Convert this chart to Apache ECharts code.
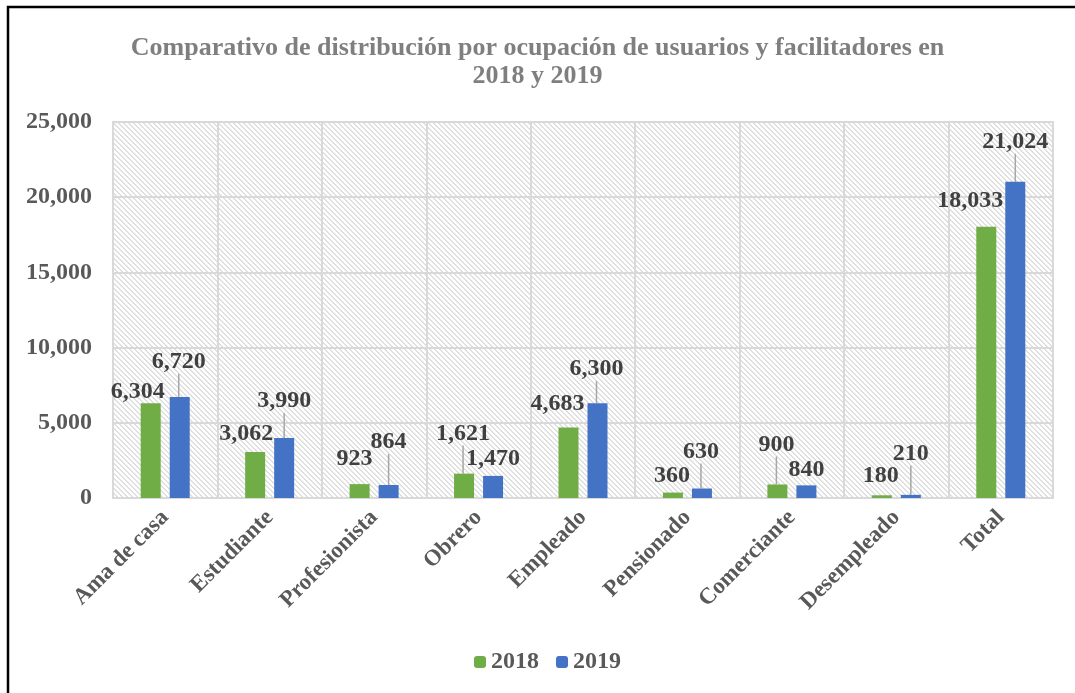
<!DOCTYPE html>
<html lang="es">
  <head>
    <meta charset="UTF-8" />
    <title>Comparativo de distribución por ocupación</title>
    <script src="https://cdn.jsdelivr.net/npm/echarts@6.0.0/dist/echarts.min.js"></script>
    <style>
      html,
      body {
        margin: 0;
        padding: 0;
        background: #fff;
      }
    </style>
  </head>
  <body>
    <div id="main" style="width: 1075px; height: 693px"></div>
    <script type="text/javascript">
      // datos
      var categorias = [
        "Ama de casa",
        "Estudiante",
        "Profesionista",
        "Obrero",
        "Empleado",
        "Pensionado",
        "Comerciante",
        "Desempleado",
        "Total",
      ];
      var valores2018 = [6304, 3062, 923, 1621, 4683, 360, 900, 180, 18033];
      var valores2019 = [6720, 3990, 864, 1470, 6300, 630, 840, 210, 21024];
      var ticksY = [0, 5000, 10000, 15000, 20000, 25000];

      // desplazamiento de etiquetas (como quedaron en el original de Excel)
      var mover2018 = [[-13, 6], [-9, -1], [-5, -8], [-1, -23], [-11, -7], [-1, 0], [-1, -23], [-1, -2], [-16, -9]];
      var mover2019 = [[-1, -18], [0, -20], [0, -26], [0, 0], [-1, -17], [-1, -20], [0, 1], [0, -24], [0, -23]];
      var linea2018 = [false, false, false, true, false, false, true, false, false];
      var linea2019 = [true, true, true, false, true, true, false, true, true];

      var fuente = "'Liberation Serif', 'Times New Roman', serif";

      // trama diagonal del fondo
      var trama = document.createElement("canvas");
      trama.width = 5;
      trama.height = 5;
      var ctx = trama.getContext("2d");
      ctx.fillStyle = "#fff";
      ctx.fillRect(0, 0, 5, 5);
      ctx.fillStyle = "#e0e0e0";
      for (var i = 0; i < 5; i++) {
        ctx.fillRect(i, i, 1, 1);
        ctx.fillRect((i + 1) % 5, i, 1, 1);
      }

      function armarDatos(vals, lineas) {
        return vals.map(function (v, i) {
          return { value: v, labelLine: { show: lineas[i] } };
        });
      }

      var etiqueta = {
        show: true,
        position: "top",
        color: "#404040",
        fontFamily: fuente,
        fontWeight: "bold",
        fontSize: 24,
        formatter: function (p) {
          return p.value.toLocaleString("en-US");
        },
      };

      var myChart = echarts.init(document.getElementById("main"));
      var option = {
        backgroundColor: "#fff",
        title: {
          text: "Comparativo de distribución por ocupación de usuarios y facilitadores en\n2018 y 2019",
          left: "center",
          top: 29,
          textStyle: {
            color: "#7f7f7f",
            fontFamily: fuente,
            fontWeight: "bold",
            fontSize: 26,
            lineHeight: 28,
          },
        },
        legend: {
          top: 645,
          left: 469,
          itemWidth: 12,
          itemHeight: 12,
          itemGap: 17,
          textStyle: {
            color: "#595959",
            fontFamily: fuente,
            fontWeight: "bold",
            fontSize: 24,
          },
          data: ["2018", "2019"],
        },
        grid: {
          left: 113,
          right: 22,
          top: 122,
          bottom: 195,
          show: true,
          borderColor: "#d9d9d9",
          borderWidth: 2,
          backgroundColor: { image: trama, repeat: "repeat" },
        },
        xAxis: {
          type: "category",
          data: categorias,
          axisLine: { lineStyle: { color: "#d9d9d9", width: 2 } },
          axisTick: { show: false },
          splitLine: { show: true, lineStyle: { color: "#d9d9d9", width: 2 } },
          axisLabel: {
            rotate: 45,
            interval: 0,
            margin: 16,
            color: "#595959",
            fontFamily: fuente,
            fontWeight: "bold",
            fontSize: 23,
          },
        },
        yAxis: {
          type: "value",
          min: ticksY[0],
          max: ticksY[ticksY.length - 1],
          interval: ticksY[1] - ticksY[0],
          axisLine: { show: false },
          axisTick: { show: false },
          splitLine: { lineStyle: { color: "#d9d9d9", width: 2 } },
          axisLabel: {
            margin: 21,
            color: "#595959",
            fontFamily: fuente,
            fontWeight: "bold",
            fontSize: 24,
            formatter: function (v) {
              return v.toLocaleString("en-US");
            },
          },
        },
        series: [
          {
            name: "2018",
            type: "bar",
            barWidth: 20,
            barGap: "45%",
            itemStyle: { color: "#70ad47" },
            label: etiqueta,
            labelLine: { lineStyle: { color: "#a6a6a6", width: 1.5 } },
            labelLayout: function (p) {
              return { dx: mover2018[p.dataIndex][0], dy: mover2018[p.dataIndex][1] };
            },
            data: armarDatos(valores2018, linea2018),
          },
          {
            name: "2019",
            type: "bar",
            barWidth: 20,
            barGap: "45%",
            itemStyle: { color: "#4472c4" },
            label: etiqueta,
            labelLine: { lineStyle: { color: "#a6a6a6", width: 1.5 } },
            labelLayout: function (p) {
              return { dx: mover2019[p.dataIndex][0], dy: mover2019[p.dataIndex][1] };
            },
            data: armarDatos(valores2019, linea2019),
          },
        ],
        graphic: [
          {
            type: "rect",
            shape: { x: 8, y: 7, width: 1200, height: 800 },
            style: { fill: "none", stroke: "#000", lineWidth: 2.5 },
            silent: true,
          },
        ],
      };
      myChart.setOption(option);
    </script>
  </body>
</html>
